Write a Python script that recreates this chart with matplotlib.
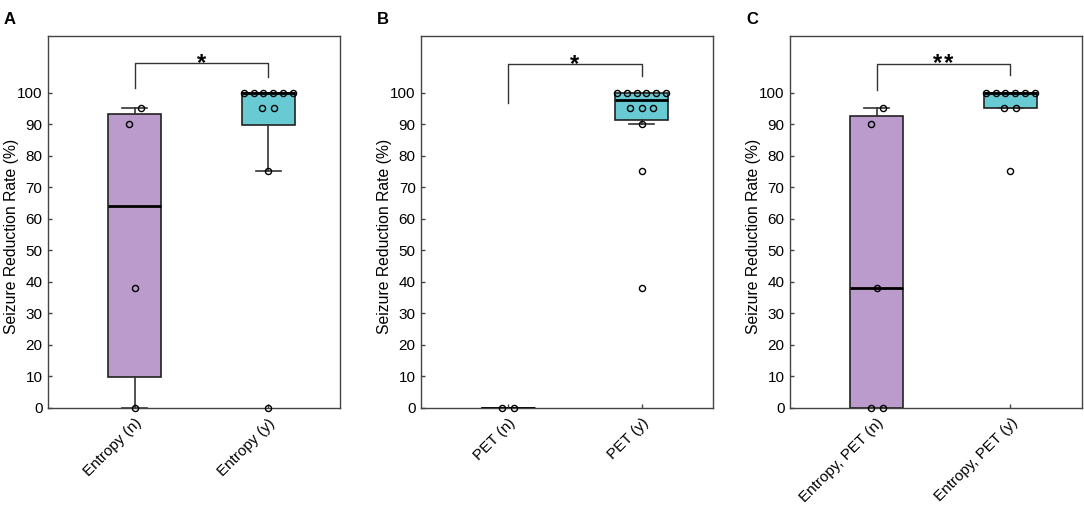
import numpy as np
import matplotlib
matplotlib.use("Agg")
import matplotlib.pyplot as plt

plt.rcParams['font.family'] = ['Liberation Sans', 'DejaVu Sans']

# ---------------- data ----------------
panel_letters = ['A', 'B', 'C']
categories = [['Entropy (n)', 'Entropy (y)'],
              ['PET (n)', 'PET (y)'],
              ['Entropy, PET (n)', 'Entropy, PET (y)']]
# individual seizure reduction rates (%)
points_A_n = [95, 90, 38, 0]
points_A_y = [100, 100, 100, 100, 100, 100, 95, 95, 75, 0]
points_B_n = [0, 0]
points_B_y = [100, 100, 100, 100, 100, 100, 95, 95, 95, 90, 75, 38]
points_C_n = [95, 90, 38, 0, 0]
points_C_y = [100, 100, 100, 100, 100, 100, 95, 95, 75]
# box statistics: q1, median, q3, lower whisker, upper whisker
box_q1 = [[9.7, 89.7], [0, 91.3], [0, 95]]
box_med = [[64, 100], [0, 97.7], [38, 100]]
box_q3 = [[93.3, 100], [0, 100], [92.5, 100]]
box_whislo = [[0, 75], [0, 90], [0, 95]]
box_whishi = [[95, 100], [0, 100], [95, 100]]
significance = ['*', '*', '**']

points = [[points_A_n, points_A_y], [points_B_n, points_B_y], [points_C_n, points_C_y]]

# ---------------- style ----------------
W, H = 1084, 507
fig = plt.figure(figsize=(W / 100, H / 100), dpi=100)
box_colors = ['#BA9BCB', '#68CBD3']
spine_col = '#444444'

ax_left_px = [48, 421.3, 790]
ax_w_px = 292
ax_top_px = 36
ax_bot_px = 407.5


def swarm_offsets(vals):
    vals = np.asarray(vals, dtype=float)
    offs = np.zeros(len(vals))
    uniq = sorted(set(vals))
    groups = {u: np.where(vals == u)[0] for u in uniq}
    for u, idx in groups.items():
        k = len(idx)
        if k > 1:
            d = min(0.087, 0.365 / (k - 1))
            offs[idx] = (np.arange(k) - (k - 1) / 2) * d
    # neighbouring single points that are close in value get split sideways
    singles = [u for u in uniq if len(groups[u]) == 1]
    for a, b in zip(singles[:-1], singles[1:]):
        if abs(b - a) <= 6 and offs[groups[a][0]] == 0 and offs[groups[b][0]] == 0:
            offs[groups[a][0]] = -0.045
            offs[groups[b][0]] = 0.045
    return offs


bracket_y = [(101.5, 105.0, 109.5), (96.7, 105.4, 109.0), (101.0, 105.5, 109.2)]

for p in range(3):
    ax = fig.add_axes([ax_left_px[p] / W, (H - ax_bot_px) / H,
                       ax_w_px / W, (ax_bot_px - ax_top_px) / H])
    stats = []
    for g in range(2):
        stats.append(dict(q1=box_q1[p][g], med=box_med[p][g], q3=box_q3[p][g],
                          whislo=box_whislo[p][g], whishi=box_whishi[p][g], fliers=[]))
    bp = ax.bxp(stats, positions=[1, 2], widths=0.4, patch_artist=True,
                showfliers=False,
                boxprops=dict(edgecolor='#222222', linewidth=1.2),
                medianprops=dict(color='black', linewidth=2.0),
                whiskerprops=dict(color='#333333', linewidth=1.2),
                capprops=dict(color='#333333', linewidth=1.2),
                capwidths=0.19)
    for patch, c in zip(bp['boxes'], box_colors):
        patch.set_facecolor(c)
    for g in range(2):
        vals = points[p][g]
        xs = (g + 1) + swarm_offsets(vals)
        ax.plot(xs, vals, linestyle='none', marker='o', markersize=4.4,
                markerfacecolor='none', markeredgecolor='black',
                markeredgewidth=1.0, zorder=5, clip_on=False)

    # significance bracket
    yl, yr, yt = bracket_y[p]
    ax.plot([1, 1, 2, 2], [yl, yt, yt, yr], color='#333333', linewidth=1.0)
    ax.text(1.5, yt - 2.2, '\u200a'.join(significance[p]), ha='center',
            va='baseline', fontsize=17, fontweight='bold')

    ax.set_xlim(0.35, 2.537)
    ax.set_ylim(0, 118)
    ax.set_yticks(np.arange(0, 101, 10))
    ax.set_xticks([1, 2])
    ax.set_xticklabels(categories[p], rotation=45, ha='right', va='top',
                       rotation_mode='anchor', fontsize=11)
    ax.tick_params(direction='in', length=3, width=1, color=spine_col,
                   pad=4)
    ax.tick_params(axis='y', labelsize=11)
    ax.tick_params(axis='x', pad=6)
    for s in ax.spines.values():
        s.set_color(spine_col)
        s.set_linewidth(1.0)
    ax.set_ylabel('Seizure Reduction Rate (%)', fontsize=11.3)
    ax.yaxis.set_label_coords(-0.10, 0.46)

    fig.text((ax_left_px[p] - 44) / W, 1 - 19.5 / H, panel_letters[p],
             fontsize=12, fontweight='bold', ha='left', va='center')

fig.savefig('out.png', dpi=100)
